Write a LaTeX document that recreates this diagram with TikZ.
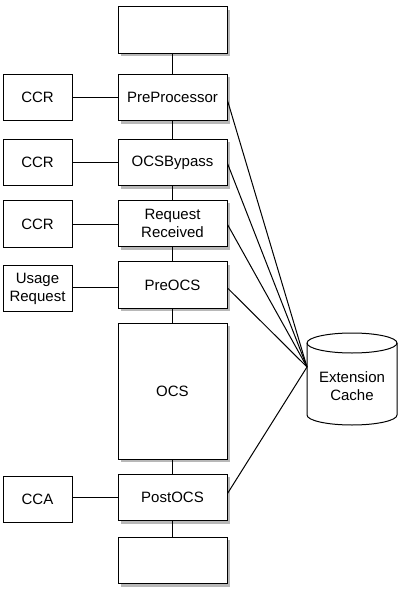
\documentclass[tikz,border=0pt]{standalone}
\usepackage{fontspec}
\setmainfont{Liberation Sans}
\usetikzlibrary{shadows}
\begin{document}
\begin{tikzpicture}[x=1pt,y=-1pt,
  colbox/.style={draw, line width=1pt, fill=white, rectangle, minimum width=109pt, minimum height=46.5pt, inner sep=0pt, align=center,
    font=\fontsize{15}{18}\selectfont,
    drop shadow={shadow xshift=3pt, shadow yshift=-3pt, fill=black!28, opacity=1}},
  sidebox/.style={draw, line width=1pt, fill=white, rectangle, minimum width=69pt, minimum height=46.5pt, inner sep=0pt, align=center,
    font=\fontsize{15}{18}\selectfont},
  conn/.style={line width=1pt}]
\useasboundingbox (0,0) rectangle (406,589);
% main column
\node[colbox] (top) at (172.5,30) {};
\node[colbox] (pp) at (172.5,97.5) {PreProcessor};
\node[colbox] (byp) at (172.5,162.5) {OCSBypass};
\node[colbox] (rr) at (172.5,223.5) {Request\\Received};
\node[colbox] (po) at (172.5,285) {PreOCS};
\node[colbox, minimum height=136pt] (ocs) at (172.5,391) {OCS};
\node[colbox] (post) at (172.5,497.5) {PostOCS};
\node[colbox] (bot) at (172.5,560.5) {};
% side boxes
\node[sidebox] (c1) at (37.5,97.5) {CCR};
\node[sidebox] (c2) at (37.5,162.5) {CCR};
\node[sidebox] (c3) at (37.5,224) {CCR};
\node[sidebox] (us) at (37.5,288.5) {Usage\\Request};
\node[sidebox] (cca) at (37.5,499.5) {CCA};
% vertical connectors
\draw[conn] (top) -- (pp);
\draw[conn] (pp) -- (byp);
\draw[conn] (byp) -- (rr);
\draw[conn] (rr) -- (po);
\draw[conn] (po) -- (ocs);
\draw[conn] (ocs) -- (post);
\draw[conn] (post) -- (bot);
% horizontal connectors
\draw[conn] (c1.east) -- (c1.east -| pp.west);
\draw[conn] (c2.east) -- (c2.east -| byp.west);
\draw[conn] (c3.east) -- (c3.east -| rr.west);
\draw[conn] ([yshift=1.5pt]us.east) -- ([yshift=1.5pt]us.east -| po.west);
\draw[conn] ([yshift=2.5pt]cca.east) -- ([yshift=2.5pt]cca.east -| post.west);
% cylinder
\draw[line width=1pt, fill=white] (307,343) -- (307,415) arc (180:360:45pt and 10pt) -- (397,343) arc (0:180:45pt and 10pt) -- cycle;
\draw[line width=1pt] (307,343) arc (180:360:45pt and 10pt);
\node[align=center, font=\fontsize{15}{18}\selectfont, inner sep=0pt] (cache) at (352,386) {Extension\\Cache};
\coordinate (cx) at (307,367);
% cache connectors
\draw[conn] ([yshift=-3pt]pp.east) -- (cx);
\draw[conn] ([yshift=-1pt]byp.east) -- (cx);
\draw[conn] ([yshift=-1pt]rr.east) -- (cx);
\draw[conn] ([yshift=-3pt]po.east) -- (cx);
\draw[conn] ([yshift=4pt]post.east) -- (cx);
\end{tikzpicture}
\end{document}
